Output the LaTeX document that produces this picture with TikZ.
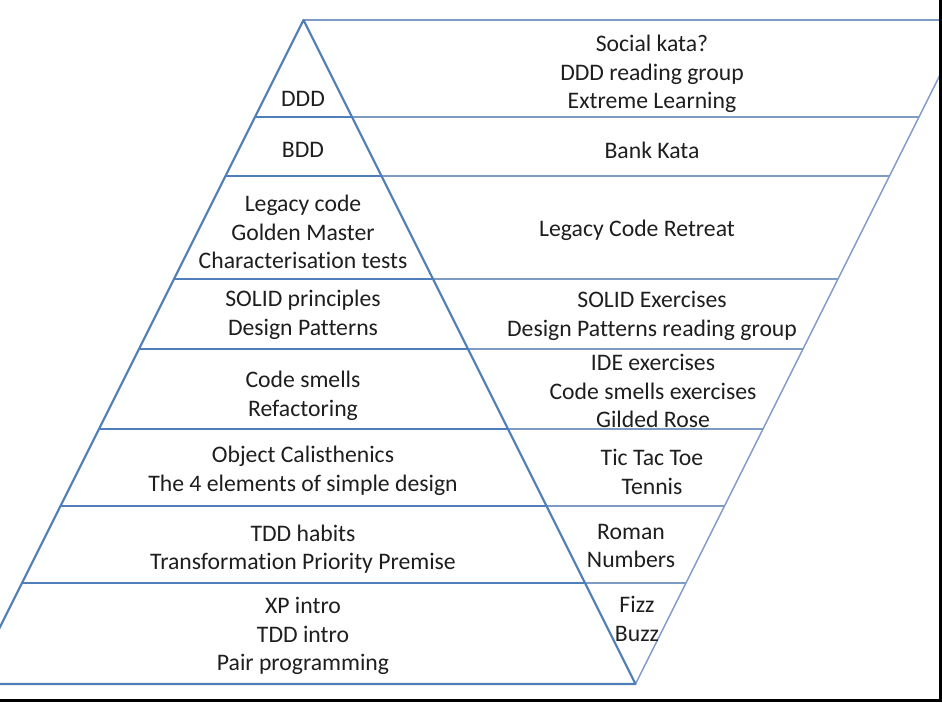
\documentclass[tikz,border=0pt]{standalone}
\usepackage{fontspec}
\setmainfont[Ligatures=NoCommon,RawFeature=-liga]{Carlito}
\definecolor{pyrblue}{HTML}{4F7FBA}
\definecolor{sideblue}{HTML}{7E9BC4}
\definecolor{txt}{HTML}{1E1E1E}
\begin{document}
\begin{tikzpicture}[x=1pt,y=-1pt,
  pyr/.style={draw=pyrblue,line width=2.2pt,line join=round},
  side/.style={draw=sideblue,line width=1.4pt},
  lbl/.style={align=center,inner sep=0pt,text=txt,font=\fontsize{23.7}{28.5}\selectfont},
  frame/.style={draw=black,line width=2.6pt}]
\useasboundingbox (0,0) rectangle (942,702);
\begin{scope}
\clip (0,0) rectangle (942,702);
% key points
\coordinate (apex) at (303.5,20);
\coordinate (topR) at (950,20);
\coordinate (botL) at (-28.5,684);
\coordinate (botP) at (635.5,684);
\coordinate (farR) at (967.5,20);
% level points: L on left edge, P on pyramid right edge, R on right slanted line
\coordinate (L1) at (255,117);   \coordinate (P1) at (352,117);   \coordinate (R1) at (919,117);
\coordinate (L2) at (225.5,176); \coordinate (P2) at (381.5,176); \coordinate (R2) at (889.5,176);
\coordinate (L3) at (174,279);   \coordinate (P3) at (433,279);   \coordinate (R3) at (838,279);
\coordinate (L4) at (139,349);   \coordinate (P4) at (468,349);   \coordinate (R4) at (803,349);
\coordinate (L5) at (99,429);    \coordinate (P5) at (508,429);   \coordinate (R5) at (763,429);
\coordinate (L6) at (60.5,506);  \coordinate (P6) at (546.5,506); \coordinate (R6) at (724.5,506);
\coordinate (L7) at (22,583);    \coordinate (P7) at (585,583);   \coordinate (R7) at (686,583);
% side part
\draw[side] (apex) -- (topR);
\draw[side] (botP) -- (farR);
\foreach \i in {1,...,7} {\draw[side] (P\i) -- (R\i);}
% pyramid
\draw[pyr] (botL) -- (apex) -- (botP) -- cycle;
\foreach \i in {1,...,7} {\draw[pyr] (L\i) -- (P\i);}
% frame
\coordinate (fTR) at (940.7,0);
\coordinate (fBR) at (940.7,700.7);
\coordinate (fBL) at (0,700.7);
\draw[frame] (fTR) -- (fBR) -- (fBL);
\end{scope}
% left labels
\node[lbl] (t1) at (303,99) {DDD};
\node[lbl] (t2) at (303,150) {BDD};
\node[lbl] (t3) at (303,232) {Legacy code\\Golden Master\\Characterisation tests};
\node[lbl] (t4) at (303,315) {SOLID principles\\Design Patterns};
\node[lbl] (t5) at (303,396) {Code smells\\Refactoring};
\node[lbl] (t6) at (303,471) {Object Calisthenics\\The 4 elements of simple design};
\node[lbl] (t7) at (303,549) {TDD habits\\Transformation Priority Premise};
\node[lbl] (t8) at (303,636) {XP intro\\TDD intro\\Pair programming};
% right labels
\node[lbl] (s1) at (652,74) {Social kata?\\DDD reading group\\Extreme Learning};
\node[lbl] (s2) at (652,150) {Bank Kata};
\node[lbl] (s3) at (637,230) {Legacy Code Retreat};
\node[lbl] (s4) at (652,316) {SOLID Exercises\\Design Patterns reading group};
\node[lbl] (s5) at (653,391) {IDE exercises\\Code smells exercises\\Gilded Rose};
\node[lbl] (s6) at (652,472) {Tic Tac Toe\\Tennis};
\node[lbl] (s7) at (631,546) {Roman\\Numbers};
\node[lbl] (s8) at (637,619) {Fizz\\Buzz};
\end{tikzpicture}
\end{document}
